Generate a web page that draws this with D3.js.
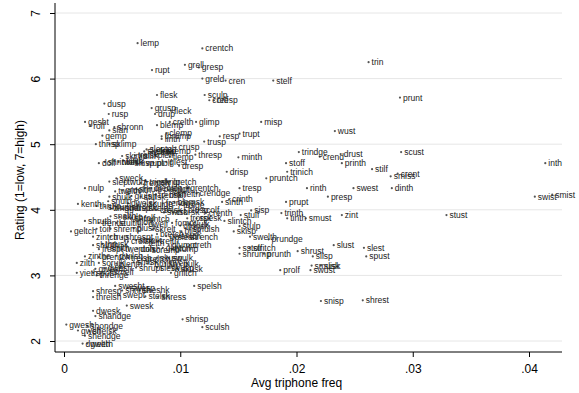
<!DOCTYPE html>
<html><head><meta charset="utf-8">
<script src="https://cdn.jsdelivr.net/npm/d3@7"></script>
<style>body{margin:0;background:#fff;} svg{display:block;font-family:"Liberation Sans",Arial,sans-serif;}</style>
</head><body>
<svg id="c" width="579" height="393"></svg>
<script>
// nonword labels, avg triphone freq (x), rating (y)
const words = ["lemp","crentch","trin","grell","gresp","rupt","greld","cren","stelf","flesk","sculp","prunt","crelf","cresp","dusp","grusp","fleck","drup","rusp","gesht","glimp","misp","crelth","blemp","rolf","shronn","slan","wust","clemp","trupt","resp","gemp","thrump","linth","trusp","thrisp","sklimp","crusp","slentch","trindge","scust","thresp","crend","drust","flemp","minth","dolf","stoff","printh","inth","dresp","stilf","drisp","trinich","crent","smiss","pruntch","sweck","slep","gretch","nulp","grentch","tresp","rinth","swest","dinth","twelth","crendge","shulk","presp","swist","smist","crinth","snulp","sinth","prupt","kenth","scolf","sisp","trinth","swisk","crenth","stulf","zint","stust","tinth","smust","trorsk","slintch","shruth","stulp","toif","shremp","plusk","geltch","skisp","zintch","swelth","prundge","trup","bretch","strench","creth","shinth","slust","slest","sstolf","stritch","shrust","shrump","prunth","slisp","spust","zinthe","zilth","sorulk","smusk","slisk","swust","prolf","shrupt","griltch","yieth","spelsh","swesht","shresp","threlsh","shress","snisp","shrest","swesk","dwesk","shandge","shrisp","sculsh","gwesh","shondge","gwelf","shelsk","shendge","dwelth","gweth",
"skelsk","glesh","frisp","skemp","skimp","trelsk","slilf","plelf","shrintch","twesk","klilth","slusp","wupt","plolf","glest","twulz","trinsk","shrilp","frentch","gruelth","shrulp","drentch","plentch","spulf","glulsh","stulsk","trensk","brelf","snelth","thrulp","shruntch","dwelsk","sculge","frendge","blemsk","trulge","zingge","smusp","frelsk","twelge","crolsk","crorsk","blusp","snalth","skulp","shrolf","fruntch","spesk","trentle","stulth","glolf","dwelf","fompt","drunsk","clulk","skrelt","smulsh","blisk","shrespt","gwentch","slesh","thrusk","crelsk","smelk","felth","trelth","glumpt","frespt","shilth","twentch","drilsh","scremp","glintch","blump","prentch","dwilsh","trelsh","greltch","skusp","swulk","plenth","smisk","brulsh","swelk","pulk","gwesht","dwesh","slesk","twusp","skusk","spolf","threnge","smelf","swesp","shrinth","sheshk","swept","stelsk"];
const freq = [0.00633,0.0119,0.0262,0.0104,0.0116,0.00757,0.0119,0.0139,0.0180,0.0080,0.0121,0.0289,0.0125,0.0129,0.00347,0.00754,0.0092,0.00783,0.00385,0.00181,0.01136,0.01696,0.0091,0.0080,0.00226,0.00433,0.0039,0.0233,0.0088,0.0151,0.0134,0.0033,0.0084,0.0084,0.01206,0.00274,0.0039,0.0096,0.0071,0.0202,0.0290,0.0113,0.0220,0.0238,0.0091,0.0150,0.0030,0.0191,0.0239,0.0414,0.0099,0.0265,0.0140,0.0192,0.0287,0.0281,0.0174,0.0045,0.0039,0.0091,0.0018,0.0106,0.0151,0.0209,0.0249,0.0282,0.0044,0.0114,0.0039,0.0227,0.0405,0.0420,0.0142,0.0038,0.0136,0.0191,0.0012,0.0116,0.0161,0.0187,0.0086,0.0122,0.0152,0.0239,0.0329,0.0192,0.0208,0.0106,0.0138,0.0018,0.0151,0.0028,0.0040,0.0060,0.0006,0.0146,0.0025,0.0160,0.0176,0.0040,0.0080,0.0106,0.0108,0.0025,0.0232,0.0258,0.0151,0.0160,0.0201,0.0151,0.0172,0.0214,0.0260,0.0018,0.0011,0.0030,0.0213,0.0221,0.0212,0.0186,0.0062,0.0092,0.0011,0.0112,0.0044,0.0025,0.0025,0.0081,0.0221,0.0257,0.0054,0.0025,0.0027,0.0102,0.0119,0.0002,0.0020,0.0012,0.0022,0.0018,0.0016,0.0020,
0.0069,0.0075,0.0080,0.0085,0.0050,0.0061,0.0066,0.0078,0.0035,0.0047,0.0051,0.0058,0.0068,0.0077,0.0088,0.0052,0.0071,0.0080,0.0066,0.0050,0.0062,0.0075,0.0083,0.0090,0.0058,0.0066,0.0079,0.0088,0.0095,0.0028,0.0035,0.0055,0.0070,0.0085,0.0095,0.0100,0.0040,0.0050,0.0060,0.0070,0.0080,0.0094,0.0104,0.0040,0.0048,0.0058,0.0066,0.0114,0.0030,0.0045,0.0060,0.0070,0.0093,0.0100,0.0108,0.0076,0.0108,0.0101,0.0050,0.0088,0.0095,0.0033,0.0055,0.0062,0.0070,0.0080,0.0090,0.0030,0.0037,0.0050,0.0063,0.0073,0.0085,0.0093,0.0030,0.0045,0.0055,0.0067,0.0080,0.0090,0.0045,0.0060,0.0075,0.0087,0.0100,0.0027,0.0035,0.0080,0.0090,0.0098,0.0025,0.0028,0.0040,0.0055,0.0050,0.0065,0.0048,0.0070];
const rating = [6.54,6.46,6.25,6.21,6.17,6.13,6.00,5.97,5.97,5.75,5.75,5.71,5.67,5.67,5.62,5.55,5.51,5.46,5.46,5.34,5.34,5.34,5.34,5.29,5.28,5.26,5.21,5.20,5.17,5.16,5.12,5.13,5.12,5.08,5.04,5.00,5.00,4.95,4.92,4.88,4.88,4.84,4.81,4.85,4.81,4.80,4.71,4.71,4.71,4.71,4.67,4.62,4.58,4.58,4.55,4.51,4.48,4.48,4.43,4.43,4.33,4.33,4.33,4.33,4.33,4.33,4.28,4.25,4.20,4.20,4.20,4.23,4.16,4.13,4.12,4.12,4.09,4.00,3.99,3.95,3.96,3.95,3.92,3.92,3.92,3.87,3.87,3.87,3.83,3.83,3.75,3.71,3.71,3.72,3.67,3.67,3.59,3.59,3.55,3.59,3.63,3.59,3.46,3.46,3.46,3.42,3.42,3.42,3.37,3.33,3.33,3.29,3.29,3.29,3.19,3.19,3.15,3.15,3.08,3.08,3.12,3.04,3.04,2.84,2.84,2.76,2.67,2.67,2.61,2.62,2.54,2.46,2.38,2.33,2.21,2.25,2.23,2.16,2.15,2.08,1.96,1.96,
4.89,4.88,4.90,4.89,4.82,4.83,4.82,4.84,4.73,4.73,4.75,4.72,4.72,4.72,4.73,4.42,4.43,4.42,4.41,4.30,4.32,4.33,4.31,4.30,4.21,4.20,4.23,4.22,4.24,4.06,4.05,4.10,4.09,4.10,4.12,4.08,4.02,4.02,4.03,4.02,4.00,3.96,4.00,3.90,3.89,3.88,3.86,3.87,3.80,3.80,3.82,3.78,3.80,3.76,3.79,3.70,3.70,3.67,3.58,3.60,3.58,3.48,3.52,3.54,3.50,3.52,3.46,3.40,3.42,3.40,3.41,3.39,3.42,3.40,3.28,3.30,3.27,3.25,3.27,3.26,3.18,3.20,3.17,3.19,3.17,3.10,3.11,3.12,3.12,3.10,3.04,3.00,3.05,2.81,2.77,2.77,2.70,2.68];
const xTicks = [0,0.01,0.02,0.03,0.04];
const xTickLabels = ["0",".01",".02",".03",".04"];
const yTicks = [2,3,4,5,6,7];

(function(){
const svg = d3.select("#c");
const x = d3.scaleLinear().domain([0,0.04]).range([64,529]);
const y = d3.scaleLinear().domain([2,7]).range([341,13]);
const pl = 55, pr = 562, pb = 352, pt = 3;

svg.append("g").selectAll("line").data(yTicks).join("line")
  .attr("x1",pl).attr("x2",pr).attr("y1",d=>y(d)).attr("y2",d=>y(d))
  .attr("stroke","#e6e6e6").attr("stroke-width",1);

const yAxis = d3.axisLeft(y).tickValues(yTicks).tickSize(5).tickFormat(d3.format("d"));
const gy = svg.append("g").attr("transform",`translate(${pl},0)`).call(yAxis);
gy.select(".domain").attr("d",`M0,${pt}V${pb}`).attr("stroke","#000");
gy.selectAll(".tick line").attr("stroke","#000");
gy.selectAll(".tick text").attr("font-size",12).attr("fill","#000")
  .attr("text-anchor","middle").attr("x",null).attr("y",0).attr("dy","0.35em")
  .attr("transform","translate(-19,0) rotate(-90)");

const xAxis = d3.axisBottom(x).tickValues(xTicks).tickSize(5).tickFormat((d,i)=>xTickLabels[i]);
const gx = svg.append("g").attr("transform",`translate(0,${pb})`).call(xAxis);
gx.select(".domain").attr("d",`M${pl},0H${pr}`).attr("stroke","#000");
gx.selectAll(".tick line").attr("stroke","#000");
gx.selectAll(".tick text").attr("font-size",12).attr("fill","#000").attr("y",12);

svg.append("text").attr("x",x(0.02)).attr("y",387).attr("text-anchor","middle")
  .attr("font-size",12).attr("fill","#000").text("Avg triphone freq");
svg.append("text").attr("transform",`translate(24,180) rotate(-90)`).attr("text-anchor","middle")
  .attr("font-size",12).attr("fill","#000").text("Rating (1=low, 7=high)");

const pts = words.map((w,i)=>({w, f:freq[i], r:rating[i]}));
const g = svg.append("g");
g.selectAll("circle").data(pts).join("circle")
  .attr("cx",d=>x(d.f)).attr("cy",d=>y(d.r)).attr("r",1.1).attr("fill","#555");
g.selectAll("text").data(pts).join("text")
  .attr("x",d=>x(d.f)+3).attr("y",d=>y(d.r)+3).attr("font-size",8.5).attr("fill","#222")
  .text(d=>d.w);
})();
</script>
</body></html>
